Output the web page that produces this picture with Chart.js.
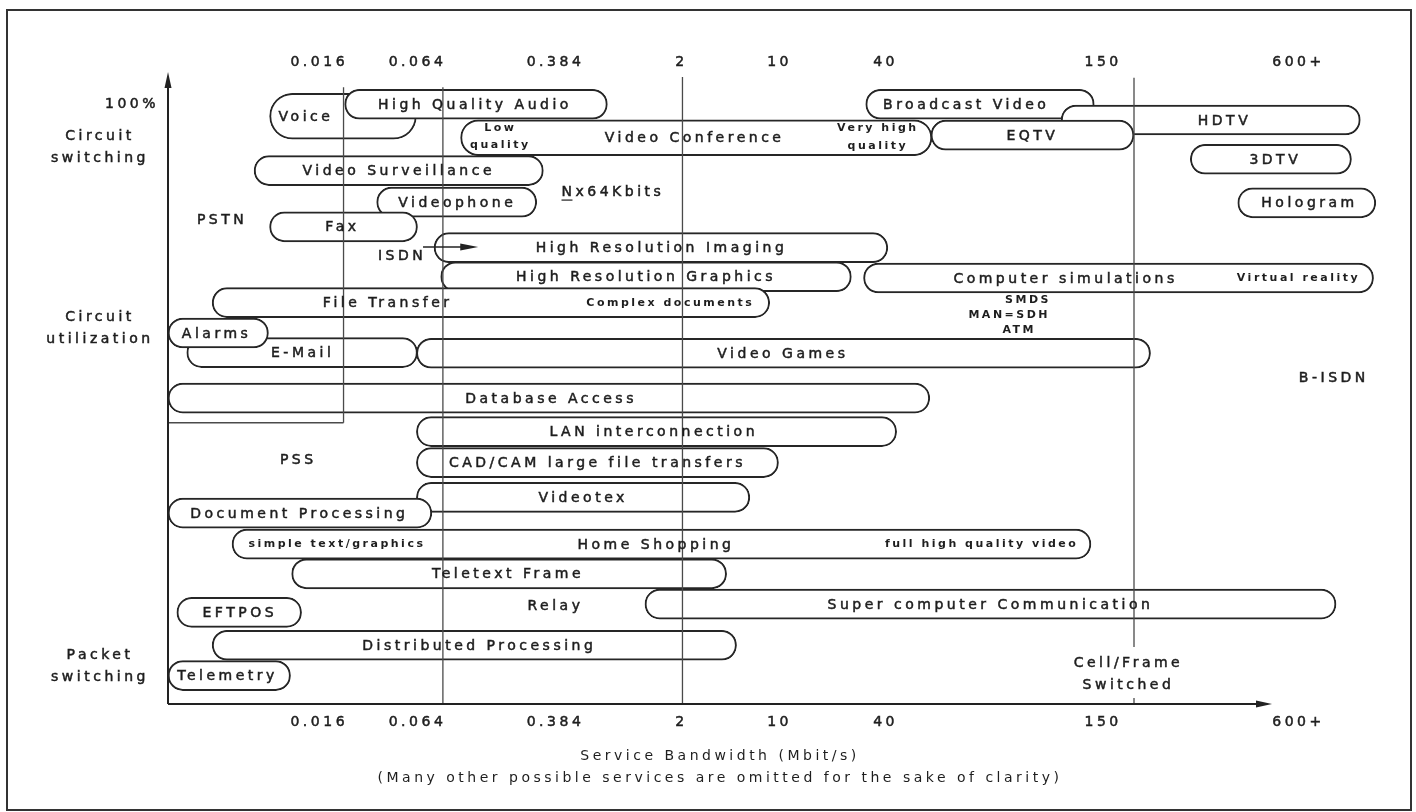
<!DOCTYPE html>
<html>
<head>
<meta charset="utf-8">
<title>Service Bandwidth</title>
<script src="https://cdn.jsdelivr.net/npm/chart.js@4.4.1/dist/chart.umd.min.js"></script>
<style>
  html, body { margin: 0; padding: 0; background: #fff; }
  canvas { display: block; }
</style>
</head>
<body>
<canvas id="chart" width="1416" height="812"></canvas>
<script>
// services: span along the bandwidth axis (0-100 axis units) and level
// (100 = circuit switching at the top, 0 = packet switching at the bottom)
const services = ["Voice", "Video Conference", "High Quality Audio", "Broadcast Video", "HDTV", "EQTV", "3DTV",
  "Video Surveillance", "Videophone", "Hologram", "Fax", "High Resolution Imaging", "High Resolution Graphics",
  "Computer simulations", "File Transfer", "E-Mail", "Video Games", "Alarms", "Database Access",
  "LAN interconnection", "CAD/CAM large file transfers", "Videotex", "Document Processing", "Home Shopping",
  "Teletext Frame", "EFTPOS", "Super computer Communication", "Distributed Processing", "Telemetry"];
const bwFrom = [9.2, 26.5, 16.0, 63.2, 80.9, 69.1, 92.6, 7.8, 18.9, 96.9, 9.2, 24.1, 24.7, 63.0, 4.0, 1.7, 22.5,
  0, 0, 22.5, 22.5, 22.5, 0, 5.8, 11.2, 0.8, 43.2, 4.0, 0];
const bwTo = [22.5, 69.2, 39.8, 83.9, 108.0, 87.5, 107.2, 34.0, 33.4, 109.4, 22.6, 65.2, 61.9, 109.2, 54.5, 22.6,
  89.0, 9.1, 69.0, 66.0, 55.3, 52.7, 23.9, 83.6, 50.6, 12.1, 105.8, 51.5, 11.1];
const level = [93.0, 89.6, 94.9, 94.9, 92.4, 90.0, 86.2, 84.4, 79.4, 79.3, 75.5, 72.2, 67.6, 67.4, 63.5, 55.6,
  55.5, 58.7, 48.4, 43.1, 38.2, 32.7, 30.2, 25.3, 20.6, 14.5, 15.8, 9.3, 4.5];
const nameAt = [12.5, 47.7, 27.8, 72.3, 95.7, 78.3, 100.3, 20.9, 26.2, 103.4, 15.8, 44.7, 43.3, 81.3, 19.9, 12.2,
  55.7, 4.4, 34.7, 44.0, 38.9, 37.6, 11.9, 44.2, 30.8, 6.5, 74.5, 28.2, 5.4];

// small notes inside / next to the boxes
const noteText = ["Low", "quality", "Very high", "quality", "Complex documents", "Virtual reality",
  "simple text/graphics", "full high quality video", "SMDS", "MAN=SDH", "ATM"];
const noteX = [30.1, 30.1, 64.3, 64.3, 45.5, 102.4, 15.3, 73.7, 77.9, 76.2, 77.1];
const noteY = [91.1, 88.4, 91.1, 88.3, 63.5, 67.4, 25.3, 25.3, 63.9, 61.6, 59.2];

// network annotations
const markText = ["PSTN", "ISDN", "Nx64Kbits", "PSS", "Relay", "B-ISDN", "Cell/Frame", "Switched"];
const markX = [4.9, 21.2, 40.3, 11.8, 35.1, 105.6, 87.0, 87.0];
const markY = [76.6, 70.9, 81.0, 38.6, 15.5, 51.6, 6.5, 3.0];

// level labels on the left
const sideText = [["Circuit", "switching"], ["Circuit", "utilization"], ["Packet", "switching"]];
const sideY = [88.0, 59.4, 6.0];
const topLevel = 94.9;

// bandwidth ticks (Mbit/s)
const bwTicks = ["0.016", "0.064", "0.384", "2", "10", "40", "150", "600+"];
const bwTickAt = [13.7, 22.6, 35.1, 46.5, 55.4, 65.0, 84.7, 102.4];

// reference lines
const guideAt = [15.9, 24.9, 46.6, 87.5];
const guideTop = [97.6, 97.6, 99.2, 99.1];
const guideBottom = [44.5, 0, 0, 9.0];
const pssLevel = 44.5;
const axisMarkAt = [87.5];
const isdnArrow = [23.1, 28.1, 72.3];

const FONT = '"DejaVu Sans", "Liberation Sans", sans-serif';
const INK = "#1e1e1e";

function boxes(keep) {
  return services.map((s, i) => i).filter(i => keep(services[i]))
    .map(i => ({ x: [bwFrom[i], bwTo[i]], y: level[i], i }));
}

const boxStyle = {
  backgroundColor: "#ffffff",
  borderColor: "#262626",
  borderWidth: 2,
  borderRadius: 24,
  borderSkipped: false,
  grouped: false,
  clip: false,
};

function line(ctx, x1, y1, x2, y2) {
  ctx.beginPath();
  ctx.moveTo(x1, y1);
  ctx.lineTo(x2, y2);
  ctx.stroke();
}

// text with a thin outline so it reads as heavy as the scanned original
function ink(ctx, t, x, y) {
  ctx.fillText(t, x, y);
  ctx.strokeText(t, x, y);
}

const decor = {
  id: "decor",
  beforeUpdate(chart) {
    chart.ctx.letterSpacing = "3.5px";
  },
  beforeDraw(chart) {
    const { ctx, width, height } = chart;
    ctx.save();
    ctx.fillStyle = "#fff";
    ctx.fillRect(0, 0, width, height);
    ctx.strokeStyle = "#333";
    ctx.lineWidth = 2;
    ctx.strokeRect(7, 10, width - 12, height - 12);
    ctx.restore();
  },
  afterDatasetsDraw(chart) {
    const { ctx, chartArea: a } = chart;
    const px = v => chart.scales.x.getPixelForValue(v);
    const py = v => chart.scales.y.getPixelForValue(v);
    ctx.save();

    // reference lines
    ctx.strokeStyle = "#4a4a4a";
    ctx.lineWidth = 1.3;
    guideAt.forEach((v, i) => line(ctx, px(v), py(guideTop[i]), px(v), py(guideBottom[i])));
    line(ctx, px(0), py(pssLevel), px(guideAt[0]), py(pssLevel));
    axisMarkAt.forEach(v => line(ctx, px(v), a.bottom, px(v), a.bottom - 6));

    // axes with arrows
    ctx.strokeStyle = "#222";
    ctx.fillStyle = "#222";
    ctx.lineWidth = 2;
    line(ctx, a.left, a.bottom, a.left, a.top + 10);
    line(ctx, a.left, a.bottom, a.right - 10, a.bottom);
    ctx.beginPath();
    ctx.moveTo(a.left, a.top);
    ctx.lineTo(a.left - 3.5, a.top + 16);
    ctx.lineTo(a.left + 3.5, a.top + 16);
    ctx.closePath();
    ctx.fill();
    ctx.beginPath();
    ctx.moveTo(a.right, a.bottom);
    ctx.lineTo(a.right - 16, a.bottom - 3.5);
    ctx.lineTo(a.right - 16, a.bottom + 3.5);
    ctx.closePath();
    ctx.fill();

    // ISDN arrow
    const ay = py(isdnArrow[2]);
    ctx.lineWidth = 1.5;
    line(ctx, px(isdnArrow[0]), ay, px(isdnArrow[1]) - 12, ay);
    ctx.beginPath();
    ctx.moveTo(px(isdnArrow[1]), ay);
    ctx.lineTo(px(isdnArrow[1]) - 18, ay - 3.5);
    ctx.lineTo(px(isdnArrow[1]) - 18, ay + 3.5);
    ctx.closePath();
    ctx.fill();

    // box names
    ctx.fillStyle = INK;
    ctx.strokeStyle = INK;
    ctx.lineWidth = 0.5;
    ctx.textAlign = "center";
    ctx.textBaseline = "middle";
    ctx.font = `14px ${FONT}`;
    ctx.letterSpacing = "3.5px";
    chart.data.datasets.forEach((ds, d) => {
      chart.getDatasetMeta(d).data.forEach((el, j) => {
        const k = ds.data[j].i;
        ink(ctx, services[k], px(nameAt[k]), el.y + 1);
      });
    });

    // annotations
    markText.forEach((t, i) => ink(ctx, t, px(markX[i]), py(markY[i])));
    const n = markText.indexOf("Nx64Kbits");
    const nw = ctx.measureText(markText[n]).width;
    const nl = px(markX[n]) - nw / 2;
    ctx.lineWidth = 1.2;
    line(ctx, nl, py(markY[n]) + 8, nl + ctx.measureText("N").width - 3, py(markY[n]) + 8);
    ctx.lineWidth = 0.5;

    // level labels on the left
    sideText.forEach((pair, i) => {
      ink(ctx, pair[0], a.left - 68, py(sideY[i]) - 11);
      ink(ctx, pair[1], a.left - 68, py(sideY[i]) + 11);
    });
    ctx.textAlign = "right";
    ink(ctx, "100%", a.left - 9, py(topLevel));

    // small notes
    ctx.textAlign = "center";
    ctx.font = `bold 11px ${FONT}`;
    ctx.letterSpacing = "2.5px";
    noteText.forEach((t, i) => ctx.fillText(t, px(noteX[i]), py(noteY[i])));

    ctx.restore();
  },
};

const tickFont = { family: FONT, size: 14 };
const tickStyle = { autoSkip: false, maxRotation: 0, color: INK, font: tickFont,
  textStrokeColor: INK, textStrokeWidth: 0.5, callback: (v, i) => bwTicks[i] };

new Chart(document.getElementById("chart"), {
  type: "bar",
  data: {
    datasets: [
      { ...boxStyle, data: boxes(s => s !== "Voice" && s !== "Video Conference"), barThickness: 30, order: 0 },
      { ...boxStyle, data: boxes(s => s === "Video Conference"), barThickness: 36, order: 1 },
      { ...boxStyle, data: boxes(s => s === "Voice"), barThickness: 46, order: 2 },
    ],
  },
  plugins: [decor],
  options: {
    indexAxis: "y",
    responsive: false,
    animation: false,
    events: [],
    layout: { padding: { left: 168, right: 144, top: 0, bottom: 0 } },
    plugins: { legend: { display: false }, tooltip: { enabled: false } },
    scales: {
      x: {
        type: "linear",
        position: "bottom",
        min: 0,
        max: 100,
        grid: { display: false, drawTicks: false },
        border: { display: false },
        afterBuildTicks: s => { s.ticks = bwTickAt.map(v => ({ value: v })); },
        afterFit: s => { s.height = 108; },
        ticks: { ...tickStyle, padding: 10 },
        title: {
          display: true,
          text: ["Service Bandwidth (Mbit/s)",
            "(Many other possible services are omitted for the sake of clarity)"],
          color: INK,
          font: { family: FONT, size: 14, lineHeight: 1.57 },
          padding: { top: 0, bottom: 23 },
        },
      },
      xTop: {
        type: "linear",
        position: "top",
        min: 0,
        max: 100,
        grid: { display: false, drawTicks: false },
        border: { display: false },
        afterBuildTicks: s => { s.ticks = bwTickAt.map(v => ({ value: v })); },
        afterFit: s => { s.height = 72; },
        ticks: { ...tickStyle, padding: 1 },
      },
      y: { type: "linear", min: 0, max: 100, offset: false, display: false },
    },
  },
});
</script>
</body>
</html>
